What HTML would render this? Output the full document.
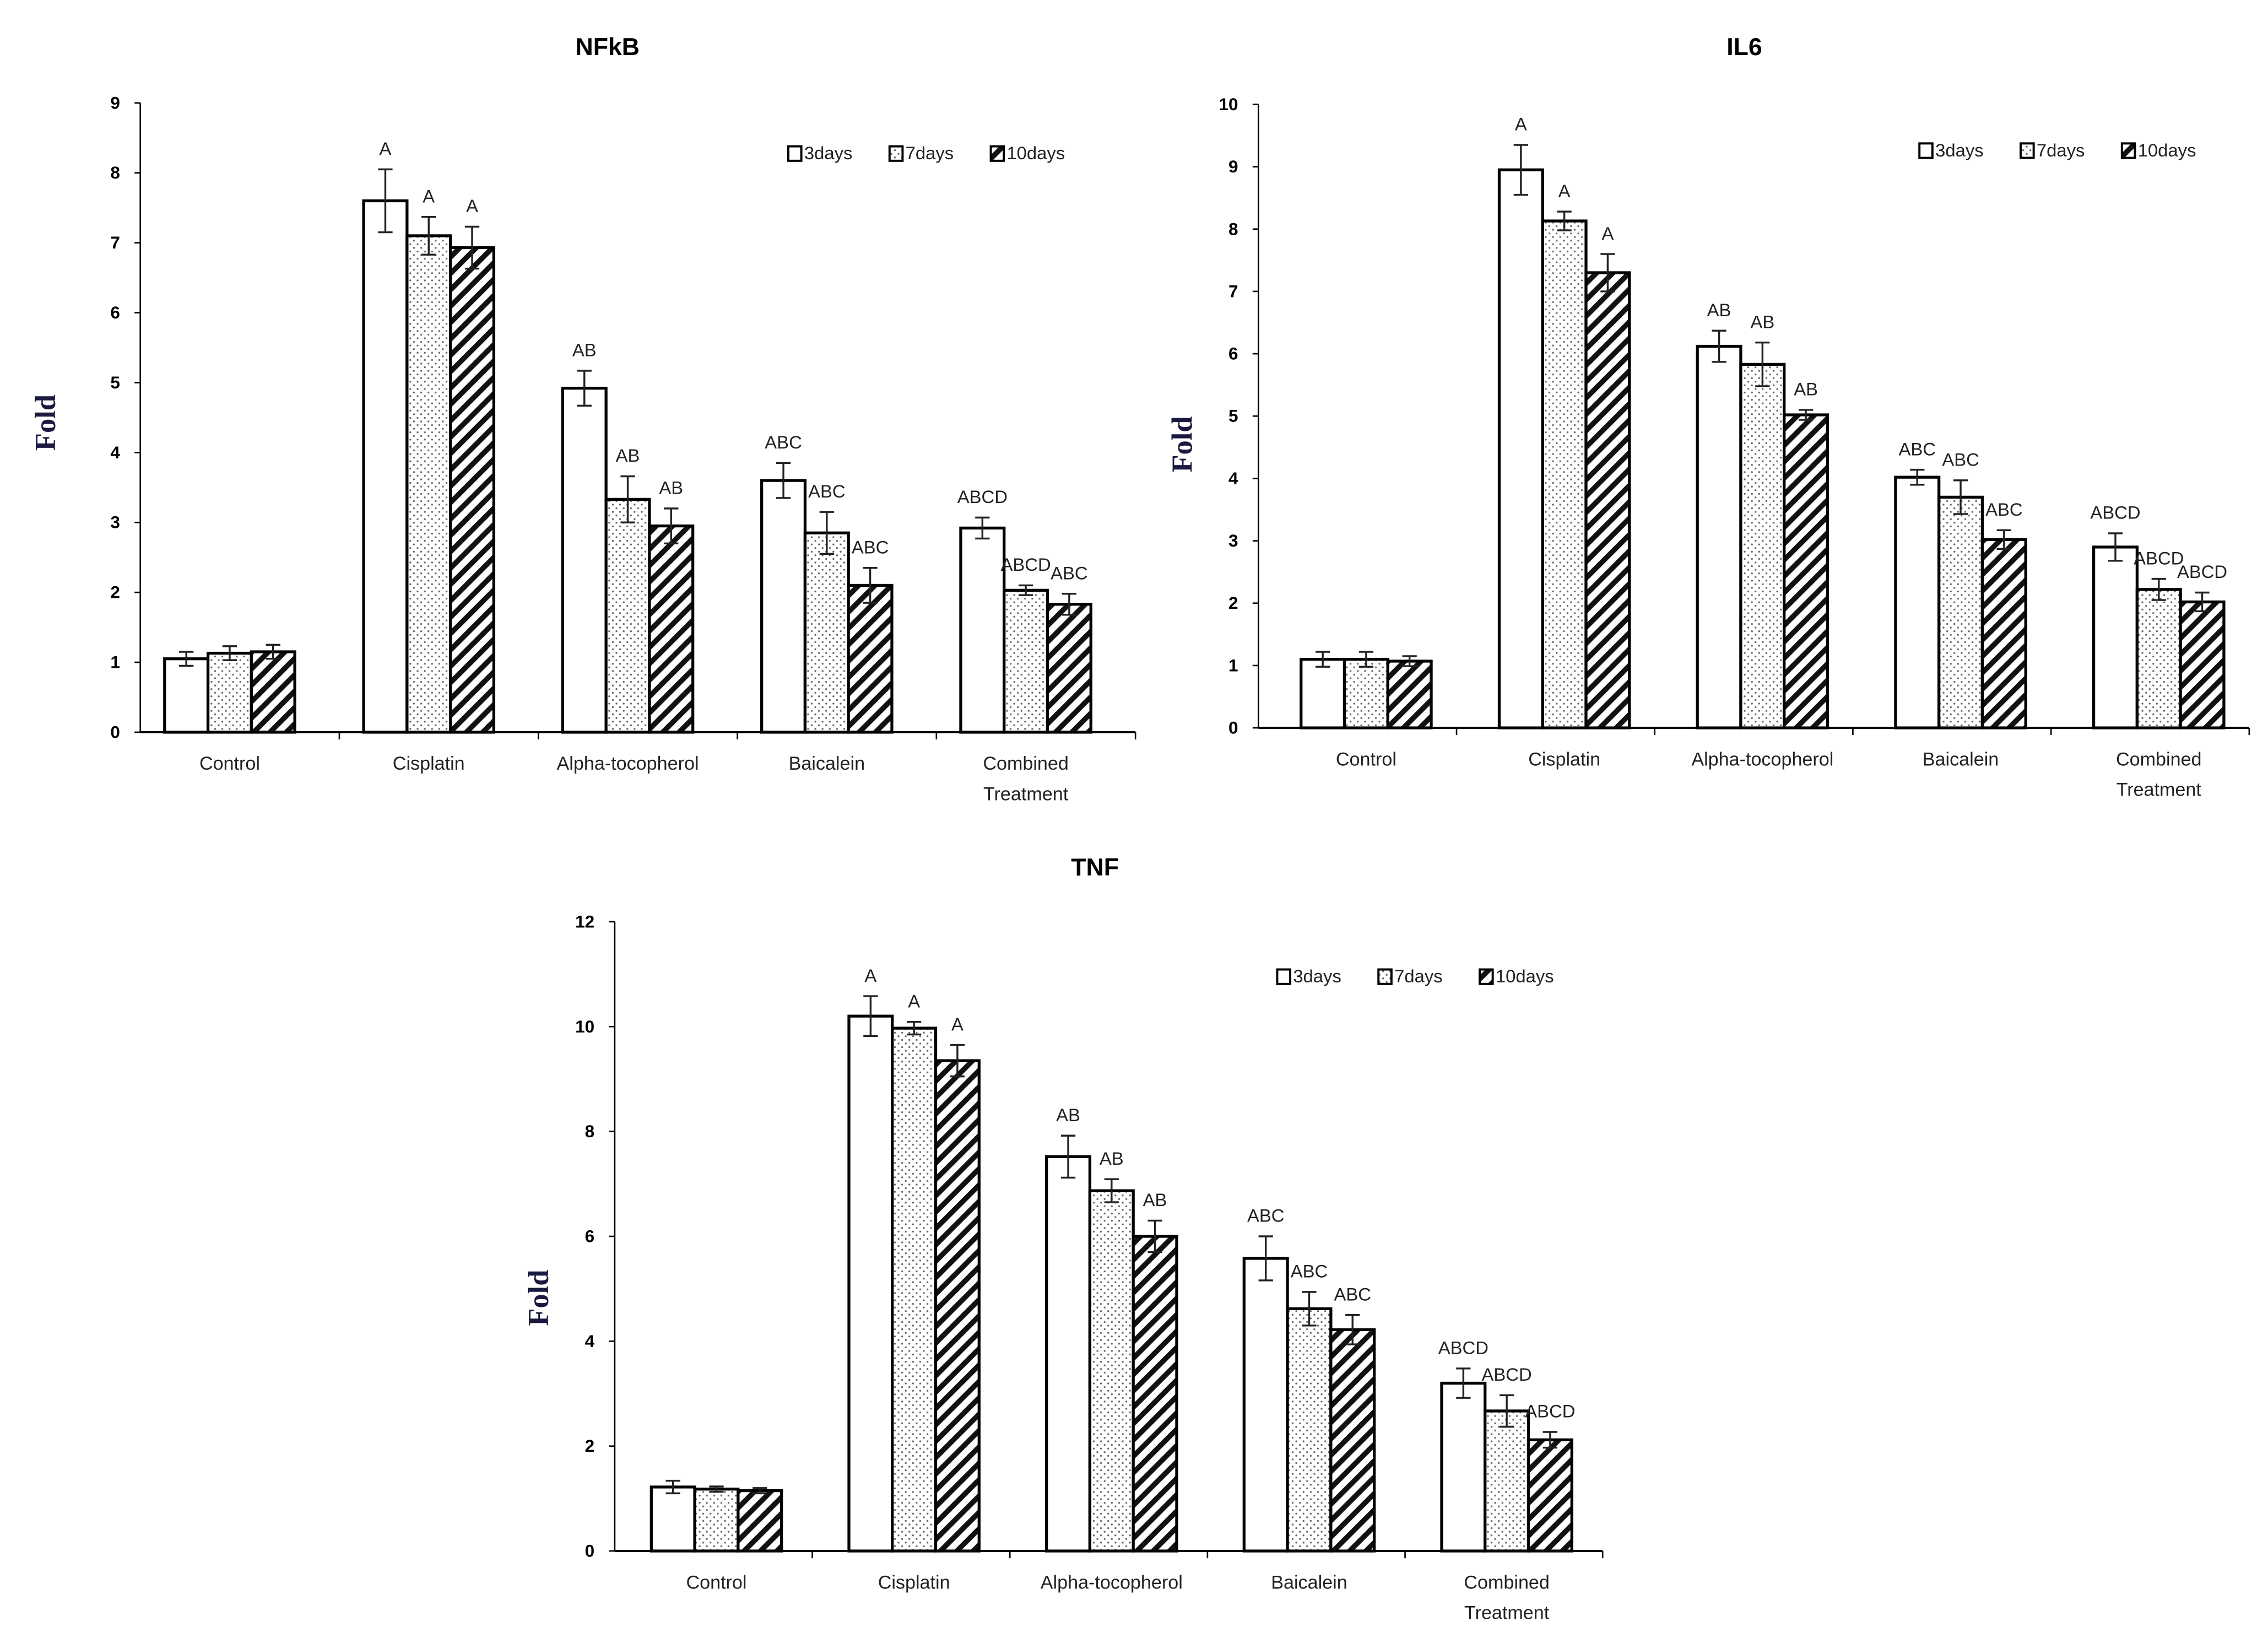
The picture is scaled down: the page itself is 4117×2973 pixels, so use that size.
<!DOCTYPE html>
<html><head><meta charset="utf-8"><style>
html,body{margin:0;padding:0;background:#fff;}
svg{display:block;font-family:"Liberation Sans",sans-serif;}
</style></head><body>
<svg id="fig" width="4117" height="2973" viewBox="0 0 1568 1132" xmlns="http://www.w3.org/2000/svg">
<defs>
<pattern id="dots" patternUnits="userSpaceOnUse" width="5" height="5"><rect width="5" height="5" fill="#fff"/><circle cx="1.2" cy="1.2" r="0.65" fill="#666"/><circle cx="3.7" cy="3.7" r="0.65" fill="#666"/></pattern>
<pattern id="stripes" patternUnits="userSpaceOnUse" width="8" height="8" patternTransform="rotate(45)"><rect width="8" height="8" fill="#fff"/><rect x="0" y="0" width="3.6" height="8" fill="#111"/></pattern>
</defs>
</svg>
<script>
const categories = ["Control","Cisplatin","Alpha-tocopherol","Baicalein","Combined|Treatment"];
const seriesNames = ["3days","7days","10days"];
const nfkb3 = [1.05,7.6,4.92,3.6,2.92];
const nfkb7 = [1.13,7.1,3.33,2.85,2.03];
const nfkb10 = [1.15,6.93,2.95,2.1,1.83];
const nfkbErr3 = [0.1,0.45,0.25,0.25,0.15];
const nfkbErr7 = [0.1,0.27,0.33,0.3,0.07];
const nfkbErr10 = [0.1,0.3,0.25,0.25,0.15];
const nfkbLet3 = ["","A","AB","ABC","ABCD"];
const nfkbLet7 = ["","A","AB","ABC","ABCD"];
const nfkbLet10 = ["","A","AB","ABC","ABC"];
const nfkbTicks = [0,1,2,3,4,5,6,7,8,9];
const il63 = [1.1,8.95,6.12,4.02,2.9];
const il67 = [1.1,8.13,5.83,3.7,2.22];
const il610 = [1.07,7.3,5.02,3.02,2.02];
const il6Err3 = [0.12,0.4,0.25,0.12,0.22];
const il6Err7 = [0.12,0.15,0.35,0.27,0.17];
const il6Err10 = [0.08,0.3,0.08,0.15,0.15];
const il6Let3 = ["","A","AB","ABC","ABCD"];
const il6Let7 = ["","A","AB","ABC","ABCD"];
const il6Let10 = ["","A","AB","ABC","ABCD"];
const il6Ticks = [0,1,2,3,4,5,6,7,8,9,10];
const tnf3 = [1.22,10.2,7.52,5.58,3.2];
const tnf7 = [1.18,9.97,6.87,4.62,2.67];
const tnf10 = [1.15,9.35,6.0,4.22,2.12];
const tnfErr3 = [0.12,0.38,0.4,0.42,0.28];
const tnfErr7 = [0.05,0.12,0.22,0.32,0.3];
const tnfErr10 = [0.05,0.3,0.3,0.28,0.15];
const tnfLet3 = ["","A","AB","ABC","ABCD"];
const tnfLet7 = ["","A","AB","ABC","ABCD"];
const tnfLet10 = ["","A","AB","ABC","ABCD"];
const tnfTicks = [0,2,4,6,8,10,12];

const NS="http://www.w3.org/2000/svg";
const svg=document.getElementById('fig');
function mk(tag,attrs,parent,text){const e=document.createElementNS(NS,tag);for(const k in attrs)e.setAttribute(k,attrs[k]);if(text!==undefined)e.textContent=text;(parent||svg).appendChild(e);return e;}
const fills=["#fff","url(#dots)","url(#stripes)"];

function chart(cfg){
  const g=mk('g',{});
  
  
  const ymax=cfg.ticks[cfg.ticks.length-1];
  const ys=v=>cfg.y0-(v/ymax)*(cfg.y0-cfg.yTop);
  const step=(cfg.x1-cfg.x0)/categories.length;
  const xc=i=>cfg.x0+step*(i+0.5)+cfg.shift;
  const bw=30;
  const t=mk('text',{x:cfg.titleX,y:cfg.titleY,'font-size':17,'font-weight':'bold','text-anchor':'middle'},g,cfg.title);
  
  
  const yl=mk('text',{x:0,y:0,'font-size':20,'font-weight':'bold','font-family':'Liberation Serif,serif',fill:'#1a1a40','text-anchor':'middle',transform:`translate(${cfg.foldX},${cfg.foldY}) rotate(-90)`},g,'Fold');
  
  
  const ya=mk('line',{x1:cfg.x0,y1:cfg.yTop,x2:cfg.x0,y2:cfg.y0,stroke:'#000','stroke-width':1},g);
  
  
  cfg.ticks.forEach(v=>{
    mk('line',{x1:cfg.x0-4,y1:ys(v),x2:cfg.x0,y2:ys(v),stroke:'#000','stroke-width':1},g);
    const tl=mk('text',{x:cfg.x0-14,y:ys(v)+4,'font-size':12,'font-weight':'bold','text-anchor':'end'},g,String(v));
    
    
  });
  categories.forEach((c,i)=>{
    mk('line',{x1:cfg.x0+step*(i+1),y1:cfg.y0,x2:cfg.x0+step*(i+1),y2:cfg.y0+5,stroke:'#000','stroke-width':1},g);
    const parts=c.split('|');
    parts.forEach((p,j)=>{
      const cl=mk('text',{x:xc(i),y:cfg.y0+26+j*21,'font-size':13,'text-anchor':'middle',fill:'#222'},g,p);
      
      
    });
  });
  [cfg.s3,cfg.s7,cfg.s10].forEach((arr,s)=>{
    const errs=[cfg.e3,cfg.e7,cfg.e10][s], lets=[cfg.l3,cfg.l7,cfg.l10][s];
    arr.forEach((v,i)=>{
      const x=xc(i)-1.5*bw+s*bw;
      const r=mk('rect',{x:x,y:ys(v),width:bw,height:cfg.y0-ys(v),fill:fills[s],stroke:'#000','stroke-width':2},g);
      
      
      const cx=x+bw/2, top=ys(v+errs[i]), bot=ys(v-errs[i]);
      const eb=mk('path',{d:`M${cx} ${top}V${bot}M${cx-5} ${top}H${cx+5}M${cx-5} ${bot}H${cx+5}`,stroke:'#222','stroke-width':1.3,fill:'none'},g);
      
      
      if(lets[i]){
        const lt=mk('text',{x:cx,y:top-10,'font-size':12.5,'text-anchor':'middle',fill:'#222'},g,lets[i]);
        
        
      }
    });
  });
  const xa=mk('line',{x1:cfg.x0,y1:cfg.y0,x2:cfg.x1,y2:cfg.y0,stroke:'#000','stroke-width':1.5},g);
  
  
  const lg=mk('g',{},g);
  
  
  const lx=[0,70,140];
  seriesNames.forEach((n,s)=>{
    const bx=cfg.legX+lx[s];
    mk('rect',{x:bx,y:cfg.legY-9,width:9,height:10,fill:fills[s],stroke:'#000','stroke-width':1.5},lg);
    const le=mk('text',{x:bx+11,y:cfg.legY,'font-size':12.5,fill:'#222'},lg,n);
    
    
  });
}
chart({key:'nfkb',title:'NFkB',titleX:420,titleY:38,foldX:38,foldY:292,x0:97,x1:785,shift:-7,y0:506,yTop:71,ticks:nfkbTicks,
  s3:nfkb3,s7:nfkb7,s10:nfkb10,e3:nfkbErr3,e7:nfkbErr7,e10:nfkbErr10,l3:nfkbLet3,l7:nfkbLet7,l10:nfkbLet10,legX:545,legY:110});
chart({key:'il6',title:'IL6',titleX:1206,titleY:38,foldX:824,foldY:307,x0:870,x1:1555,shift:6,y0:503,yTop:72,ticks:il6Ticks,
  s3:il63,s7:il67,s10:il610,e3:il6Err3,e7:il6Err7,e10:il6Err10,l3:il6Let3,l7:il6Let7,l10:il6Let10,legX:1327,legY:108});
chart({key:'tnf',title:'TNF',titleX:757,titleY:605,foldX:379,foldY:897,x0:425,x1:1108,shift:2,y0:1072,yTop:637,ticks:tnfTicks,
  s3:tnf3,s7:tnf7,s10:tnf10,e3:tnfErr3,e7:tnfErr7,e10:tnfErr10,l3:tnfLet3,l7:tnfLet7,l10:tnfLet10,legX:883,legY:679});
</script>
</body></html>
